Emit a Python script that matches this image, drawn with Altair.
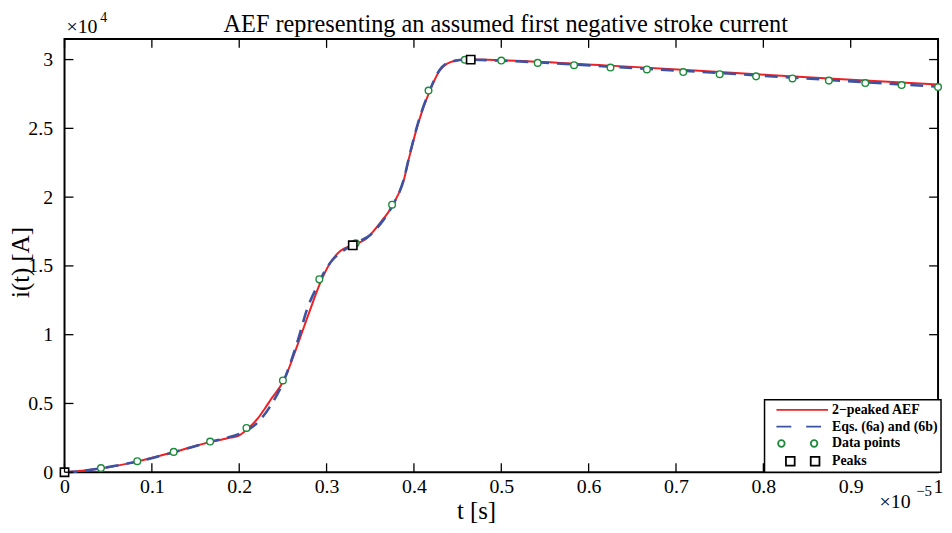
import altair as alt
import pandas as pd

TITLE = "AEF representing an assumed first negative stroke current"
X_TITLE = "t [s]"
Y_TITLE = "i(t) [A]"

# t in units of 1e-5 s, current in A
aef_t = [0.000, 0.020, 0.043, 0.085, 0.126, 0.168, 0.190, 0.199, 0.209, 0.221, 0.229, 0.2365,
         0.251, 0.267, 0.280, 0.293, 0.303, 0.316, 0.330, 0.345, 0.361, 0.376, 0.388, 0.395,
         0.405, 0.418, 0.429, 0.441, 0.455, 0.465, 0.500, 0.625, 0.750, 0.875, 1.000]
aef_i = [0, 110, 290, 810, 1480, 2220, 2520, 2640, 3120, 3890, 4600, 5320,
         6670, 9300, 11600, 13800, 15100, 16100, 16500, 16950, 18100, 19450, 21150, 23000,
         25400, 27700, 29150, 29800, 29980, 30000, 29950, 29560, 29100, 28620, 28180]

eq_t = [0.000, 0.020, 0.043, 0.085, 0.126, 0.168, 0.190, 0.200, 0.209, 0.220, 0.2345, 0.251,
        0.2686, 0.2774, 0.2887, 0.300, 0.308, 0.320, 0.335, 0.350, 0.361, 0.376, 0.388, 0.395,
        0.405, 0.418, 0.429, 0.441, 0.459, 0.500, 0.625, 0.750, 0.875, 1.000]
eq_i = [0, 90, 300, 800, 1470, 2230, 2580, 2780, 3050, 3550, 4700, 6650,
        9900, 11800, 13450, 14850, 15520, 16150, 16700, 17250, 18000, 19450, 21200, 23050,
        25450, 27750, 29200, 29820, 29990, 29920, 29480, 29020, 28520, 28030]

pts_t = [0.0, 0.0417, 0.0833, 0.125, 0.1667, 0.2083, 0.25, 0.2917, 0.3333, 0.375, 0.4167, 0.4583,
         0.5, 0.5417, 0.5833, 0.625, 0.6667, 0.7083, 0.75, 0.7917, 0.8333, 0.875, 0.9167, 0.9583, 1.0]
pts_i = [0, 300, 800, 1480, 2230, 3220, 6670, 14030, 16650, 19450, 27750, 29980,
         29930, 29760, 29590, 29420, 29280, 29090, 28940, 28780, 28630, 28470, 28290, 28150, 28000]

peak_t = [0.0, 0.33, 0.465]
peak_i = [0, 16500, 30000]

x_ticks = [0, 0.1, 0.2, 0.3, 0.4, 0.5, 0.6, 0.7, 0.8, 0.9, 1.0]
y_ticks = [0, 5000, 10000, 15000, 20000, 25000, 30000]

legend_labels = ["2\u2212peaked AEF", "Eqs. (6a) and (6b)", "Data points", "Peaks"]
sci_labels = ["\u00d710", "4", "\u00d710", "\u22125"]

RED = "#ee2224"
BLUE = "#3a53a4"
GREEN = "#1b8a3a"
BLACK = "#000000"
legend_colors = [RED, BLUE, GREEN, BLACK]
legend_paths = [
    "M-6.5,0H6.5",
    "M-6.5,0H-2.75M1,0H4.75",
    "M-6.08,0A0.83,0.83 0 1,0 -4.42,0A0.83,0.83 0 1,0 -6.08,0Z"
    "M2.17,0A0.83,0.83 0 1,0 3.83,0A0.83,0.83 0 1,0 2.17,0Z",
    "M-4.1,-1.1H-1.9V1.1H-4.1ZM2.15,-1.1H4.35V1.1H2.15Z",
]

W, H = 881, 437
FONT = "Liberation Serif"

aef = pd.DataFrame({"t": aef_t, "i": aef_i})
eqs = pd.DataFrame({"t": eq_t, "i": eq_i})
pts = pd.DataFrame({"t": pts_t, "i": pts_i})
peaks = pd.DataFrame({"t": peak_t, "i": peak_i})
xt = pd.DataFrame({"t": x_ticks})
yt = pd.DataFrame({"i": y_ticks})
leg = pd.DataFrame({"series": legend_labels})

xscale = alt.Scale(domain=[0, 1], nice=False, zero=False)
yscale = alt.Scale(domain=[0, 31500], nice=False)

x_axis = alt.Axis(values=x_ticks, format=".1~f", title=X_TITLE, labelFont=FONT, labelFontSize=20,
                  labelColor="black", labelPadding=4, labelFlush=False, ticks=False, tickSize=0,
                  domain=False, grid=False, titleFont=FONT, titleFontSize=25, titleFontWeight="normal",
                  titleColor="black", titleX=415, titleY=47, titleAlign="center",
                  titleBaseline="alphabetic")
y_axis = alt.Axis(values=y_ticks, labelExpr="datum.value / 10000", title=Y_TITLE, labelFont=FONT,
                  labelFontSize=20, labelColor="black", labelPadding=12, labelFlush=False,
                  ticks=False, tickSize=0, domain=False, grid=False, titleFont=FONT,
                  titleFontSize=25, titleFontWeight="normal", titleColor="black", titleX=-44,
                  titleY=225, titleAngle=270, titleAlign="center", titleBaseline="middle")

X = alt.X("t:Q", scale=xscale, axis=x_axis)
Y = alt.Y("i:Q", scale=yscale, axis=y_axis)

red_line = alt.Chart(aef).mark_line(color=RED, strokeWidth=2, interpolate="monotone").encode(x=X, y=Y)
blue_line = alt.Chart(eqs).mark_line(color=BLUE, strokeWidth=2.6, strokeDash=[13, 8],
                                     interpolate="monotone").encode(x=X, y=Y)
circles = alt.Chart(pts).mark_point(shape="circle", filled=False, fill="white", color=GREEN,
                                    size=45, strokeWidth=1.4, opacity=1).encode(x=X, y=Y)
squares = alt.Chart(peaks).mark_point(shape="square", filled=False, fill="white", color=BLACK,
                                      size=70, strokeWidth=1.6, opacity=1).encode(x=X, y=Y)

tick_bottom = alt.Chart(xt).mark_rule(color="black", strokeWidth=1.3).encode(
    x=X, y=alt.value(H), y2=alt.value(H - 9))
tick_top = alt.Chart(xt).mark_rule(color="black", strokeWidth=1.3).encode(
    x=X, y=alt.value(0), y2=alt.value(9))
tick_left = alt.Chart(yt).mark_rule(color="black", strokeWidth=1.3).encode(
    y=Y, x=alt.value(0), x2=alt.value(9))
tick_right = alt.Chart(yt).mark_rule(color="black", strokeWidth=1.3).encode(
    y=Y, x=alt.value(W), x2=alt.value(W - 9))

legend_props = dict(title=None, orient="none", legendX=706, legendY=364, padding=3,
                    rowPadding=3, symbolSize=64, symbolOffset=28, labelOffset=23,
                    labelFont=FONT, labelFontSize=14, labelFontWeight="bold", labelColor="black",
                    labelLimit=400, symbolStrokeWidth=1.8, symbolOpacity=1,
                    symbolFillColor="white", fillColor="white", strokeColor="black")
legend_layer = alt.Chart(leg).mark_point(filled=False).encode(
    color=alt.Color("series:N", scale=alt.Scale(domain=legend_labels, range=legend_colors),
                    legend=alt.Legend(**legend_props)),
    shape=alt.Shape("series:N", scale=alt.Scale(domain=legend_labels, range=legend_paths),
                    legend=alt.Legend(**legend_props)),
).transform_filter("false")


def label_text(label, px, py, size, align="left"):
    return alt.Chart(pd.DataFrame({"s": [label]})).mark_text(
        font=FONT, fontSize=size, color="black", align=align, baseline="alphabetic"
    ).encode(text="s:N", x=alt.value(px), y=alt.value(py))


texts = [
    label_text(TITLE, 445, -7, 24.5, align="center"),
    label_text(sci_labels[0], 2, -6, 20),
    label_text(sci_labels[1], 36, -17, 14),
    label_text(sci_labels[2], 822, 473, 20),
    label_text(sci_labels[3], 859, 461, 15),
]

chart = alt.layer(
    red_line, blue_line, circles, squares,
    tick_bottom, tick_top, tick_left, tick_right,
    legend_layer, *texts,
).properties(
    width=W, height=H,
    autosize=alt.AutoSizeParams(type="none"),
    padding={"left": 57, "top": 29, "right": 6, "bottom": 51},
).configure_view(stroke="black", strokeWidth=2).configure_legend(strokeWidth=1.5, cornerRadius=0)

chart.save("out.html", embed_options={"renderer": "svg", "actions": False})
